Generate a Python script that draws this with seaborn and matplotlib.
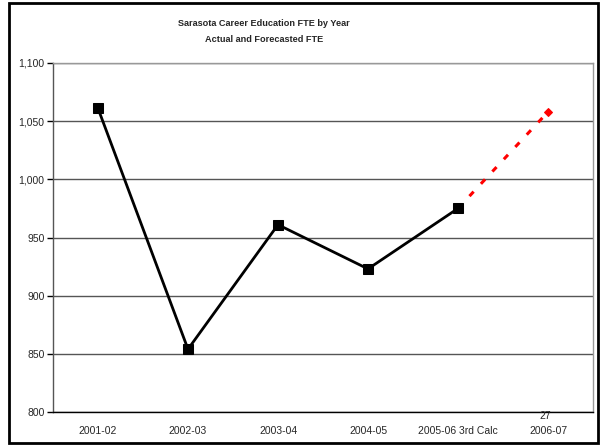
import numpy as np
import pandas as pd
import seaborn as sns
import matplotlib.pyplot as plt
from matplotlib.patches import Rectangle

years = ["2001-02", "2002-03", "2003-04", "2004-05", "2005-06 3rd Calc", "2006-07"]
actual_years = years[:5]
actual_fte = [1061, 854, 961, 923, 975]
forecast_years = years[4:]
forecast_fte = [975, 1058]

sns.set_style("white")
plt.rcParams["font.family"] = ["Liberation Sans", "DejaVu Sans"]

fig = plt.figure(figsize=(6, 4.45), dpi=100)
ax = fig.add_axes([53 / 600, 1 - 412 / 445, 540 / 600, 349 / 445])

actual = pd.DataFrame({"year": actual_years, "fte": actual_fte})
forecast = pd.DataFrame({"year": forecast_years, "fte": forecast_fte})

# actual first so the category order on x follows the years list
sns.lineplot(data=actual, x="year", y="fte", ax=ax, color="black", lw=2,
             marker="s", markersize=6.5, markeredgecolor="black", zorder=4)
sns.lineplot(data=forecast, x="year", y="fte", ax=ax, color="red", lw=2.2,
             linestyle=(0, (2, 3.5)), marker="D", markersize=4.2, markevery=[1],
             markeredgecolor="red", zorder=3)

ax.set_xlim(-0.5, len(years) - 0.5)
ax.set_ylim(800, 1100)
ax.set_yticks(np.arange(800, 1101, 50))
ax.set_yticklabels([f"{v:,}" for v in range(800, 1101, 50)], fontsize=7.5)
ax.set_xticks(range(len(years)))
ax.set_xticklabels(years, fontsize=7.5)
ax.set_xticks(np.arange(-0.5, len(years)), minor=True)
ax.tick_params(axis="x", which="major", length=0, pad=10)
ax.tick_params(axis="x", which="minor", length=4, width=1, color="black", direction="out")
ax.tick_params(axis="y", length=4, width=1, color="black", direction="out", pad=2, left=True)
ax.set_xlabel("")
ax.set_ylabel("")

ax.yaxis.grid(True, color="#555555", lw=1)
ax.set_axisbelow(True)
ax.spines["left"].set_color("#555555")
ax.spines["top"].set_color("#999999")
ax.spines["right"].set_color("#999999")
ax.spines["bottom"].set_color("black")
for s in ax.spines.values():
    s.set_linewidth(1)

fig.text(0.44, 1 - 24 / 445, "Sarasota Career Education FTE by Year",
         ha="center", va="center", fontsize=6.6, fontweight="bold")
fig.text(0.44, 1 - 40 / 445, "Actual and Forecasted FTE",
         ha="center", va="center", fontsize=6.6, fontweight="bold")
fig.text(545 / 600, 1 - 416 / 445, "27", ha="center", va="center", fontsize=7.5)

fig.patches.append(Rectangle((9 / 600, 2 / 445), 589 / 600, 440 / 445,
                             transform=fig.transFigure, fill=False,
                             edgecolor="black", lw=2))

plt.savefig("out.png", dpi=100)
